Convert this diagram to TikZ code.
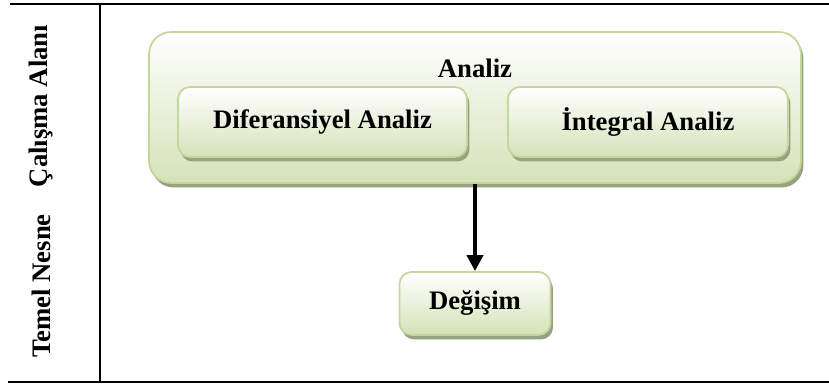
\documentclass[tikz,border=0pt]{standalone}
\usepackage{fontspec}
\setmainfont{Liberation Serif}
\usetikzlibrary{positioning, shadows, arrows.meta}

\definecolor{kenar}{HTML}{C3D69B}
\definecolor{dolgu}{HTML}{D5E2B8}
\definecolor{golge}{HTML}{98A283}

\begin{document}
\begin{tikzpicture}[x=0.02cm, y=-0.02cm, on grid, >={Triangle[length=0.32cm, width=0.32cm]},
  kutu/.style={draw=kenar, line width=1pt, rounded corners=0.24cm, top color=white, bottom color=dolgu,
    drop shadow={shadow xshift=0.05cm, shadow yshift=-0.09cm, fill=golge, opacity=1}},
  yazi/.style={font=\fontsize{15.2}{18}\selectfont\bfseries},
  baslik/.style={yazi, rotate=90}]

\useasboundingbox (0,0) rectangle (829,385);

% tablo cizgileri
\draw[line width=1pt] (10,4) -- (829,4);
\draw[line width=1pt] (8,381.7) -- (829,381.7);
\draw[line width=0.75pt] (100,4) -- (100,381.7);

\node[baslik] (calisma) at (41,106) {Çalışma Alanı};
\node[baslik] (nesne) at (41,286) {Temel Nesne};

\node[kutu, rounded corners=0.44cm, minimum width=13.04cm, minimum height=3.02cm] (alan) at (475,107.5) {};
\node[yazi] (analiz) at (475,68) {Analiz};
\node[kutu, yazi, minimum width=5.78cm, minimum height=1.4cm] (diferansiyel) at (322.5,122) {Diferansiyel Analiz};
\node[kutu, yazi, minimum width=5.6cm, minimum height=1.4cm, right=6.51cm of diferansiyel] (integral) {İntegral Analiz};
\node[kutu, yazi, minimum width=3.02cm, minimum height=1.26cm, below=3.92cm of alan] (degisim) {Değişim};

\draw[->, line width=2.2pt] (alan.south) -- (degisim.north);

\end{tikzpicture}
\end{document}
